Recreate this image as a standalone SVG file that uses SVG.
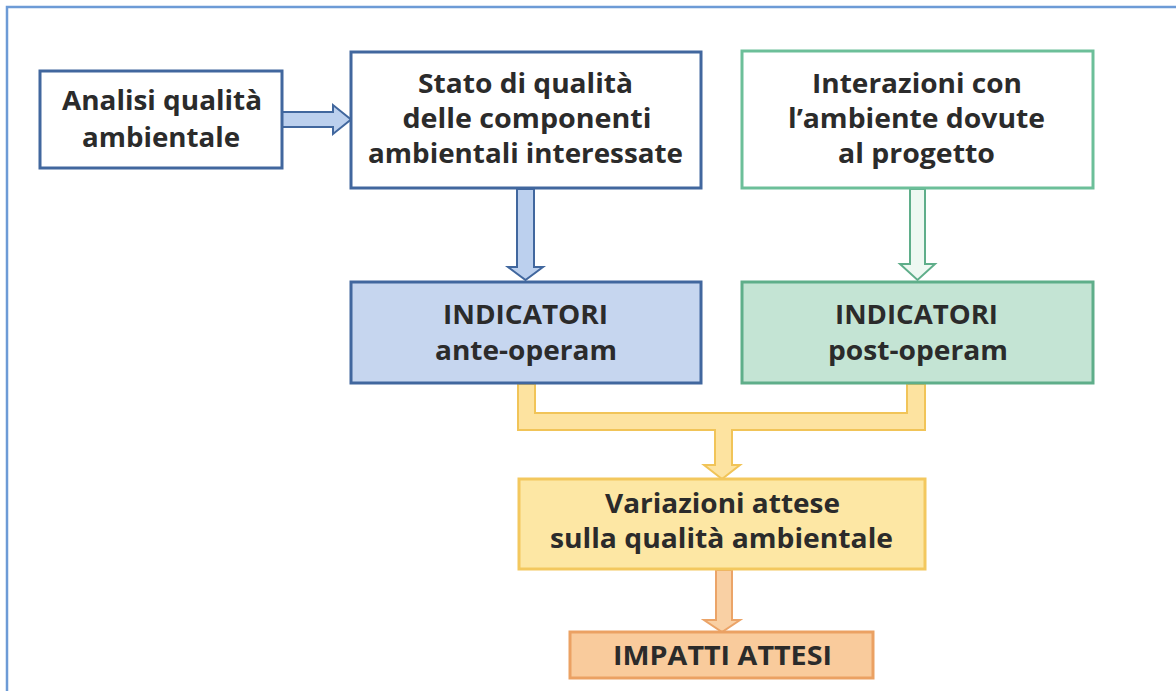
<svg xmlns="http://www.w3.org/2000/svg" width="1176" height="691" viewBox="0 0 1176 691">
<style>
text{font-family:"Open Sans",Lato,"Liberation Sans",sans-serif;font-weight:700;fill:#2b2b2b;text-anchor:middle;font-size:26px}
.bw{fill:#ffffff;stroke:#41679e;stroke-width:3}
.bb{fill:#c6d6ef;stroke:#41679e;stroke-width:3}
.gw{fill:#ffffff;stroke:#6cbf99;stroke-width:3}
.gb{fill:#c4e4d4;stroke:#5fae8a;stroke-width:3}
.yb{fill:#fde7a4;stroke:#f3c85e;stroke-width:3}
.ob{fill:#f9cb9c;stroke:#eba163;stroke-width:3}
.ab{fill:#bcd0ee;stroke:#41679e;stroke-width:2}
.ag{fill:#eef8f2;stroke:#5fae8a;stroke-width:2}
.ay{fill:#fde3a0;stroke:#f1c458;stroke-width:2}
.ao{fill:#f9d0a4;stroke:#eba468;stroke-width:2}
</style>
<rect width="1176" height="691" fill="#ffffff"/>
<path d="M7 691 V7 H1176" fill="none" stroke="#6d9bd6" stroke-width="2.5"/>
<g id="connectors">
<polygon class="ab" points="282,112 333,112 333,105 351,119.5 333,134 333,127 282,127"/>
<polygon class="ab" points="517,189 517,267 508,267 525.5,280 543,267 534,267 534,189"/>
<polygon class="ag" points="910,189 910,264 900,264 917.5,280 935,264 925,264 925,189"/>
<polygon class="ay" points="518,384 518,430 715,430 715,465 704,465 722,479 740,465 732,465 732,430 925,430 925,384 907,384 907,413 535,413 535,384"/>
<polygon class="ao" points="716,570 716,620 704,620 722,632 740,620 732,620 732,570"/>
</g>
<g id="n-analisi">
<rect class="bw" x="40" y="71" width="242" height="97"/>
<text x="162" y="110" textLength="200" lengthAdjust="spacingAndGlyphs">Analisi qualità</text>
<text x="161" y="147" textLength="158" lengthAdjust="spacingAndGlyphs">ambientale</text>
</g>
<g id="n-stato">
<rect class="bw" x="351" y="52" width="350" height="136"/>
<text x="525.5" y="93" textLength="215" lengthAdjust="spacingAndGlyphs">Stato di qualità</text>
<text x="527" y="128" textLength="249" lengthAdjust="spacingAndGlyphs">delle componenti</text>
<text x="525.5" y="163" textLength="315" lengthAdjust="spacingAndGlyphs">ambientali interessate</text>
</g>
<g id="n-interazioni">
<rect class="gw" x="742" y="51" width="351" height="137"/>
<text x="917" y="93" textLength="210" lengthAdjust="spacingAndGlyphs">Interazioni con</text>
<text x="916.5" y="128" textLength="257" lengthAdjust="spacingAndGlyphs">l’ambiente dovute</text>
<text x="916.5" y="163" textLength="157" lengthAdjust="spacingAndGlyphs">al progetto</text>
</g>
<g id="n-ante">
<rect class="bb" x="351" y="282" width="350" height="101"/>
<text x="525.5" y="324" textLength="165" lengthAdjust="spacingAndGlyphs">INDICATORI</text>
<text x="526" y="360" textLength="182" lengthAdjust="spacingAndGlyphs">ante-operam</text>
</g>
<g id="n-post">
<rect class="gb" x="742" y="282" width="351" height="101"/>
<text x="916.5" y="324" textLength="163" lengthAdjust="spacingAndGlyphs">INDICATORI</text>
<text x="918" y="360" textLength="180" lengthAdjust="spacingAndGlyphs">post-operam</text>
</g>
<g id="n-variazioni">
<rect class="yb" x="519" y="479" width="406" height="90"/>
<text x="722.5" y="513" textLength="235" lengthAdjust="spacingAndGlyphs">Variazioni attese</text>
<text x="721.5" y="548" textLength="343" lengthAdjust="spacingAndGlyphs">sulla qualità ambientale</text>
</g>
<g id="n-impatti">
<rect class="ob" x="570" y="632" width="303" height="46"/>
<text x="722.5" y="665" textLength="219" lengthAdjust="spacingAndGlyphs">IMPATTI ATTESI</text>
</g>
</svg>
